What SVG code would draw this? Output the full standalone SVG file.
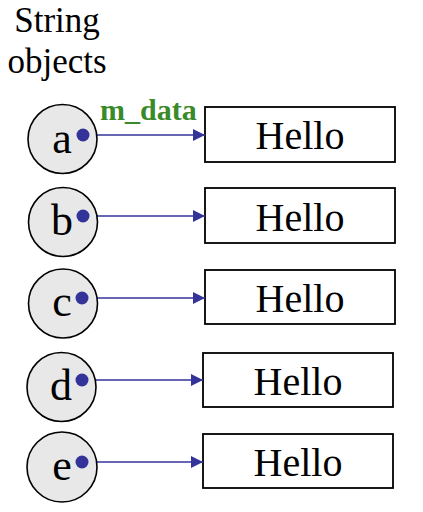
<svg xmlns="http://www.w3.org/2000/svg" width="423" height="512" viewBox="0 0 423 512">
<defs>
<style>
.obj circle.body{fill:#e8e8e8;stroke:#000;stroke-width:1.6}
.obj text{font-family:"Liberation Serif",serif;font-size:44px;fill:#000;text-anchor:middle}
.str rect{fill:#fff;stroke:#000;stroke-width:1.8}
.str text{font-family:"Liberation Serif",serif;font-size:40px;fill:#000;text-anchor:middle}
.dot{fill:#333399}
.conn line{stroke:#333399;stroke-width:1.6}
.title{font-family:"Liberation Serif",serif;font-size:35px;fill:#000;text-anchor:middle}
.lbl{font-family:"Liberation Serif",serif;font-size:30px;font-weight:bold;fill:#3a8a2a}
</style>
<marker id="ah" markerWidth="12" markerHeight="12" viewBox="0 0 12 12" refX="12" refY="6" orient="auto" markerUnits="userSpaceOnUse">
<path d="M0,0 L12,6 L0,12 Z" fill="#333399"/>
</marker>
</defs>
<rect width="423" height="512" fill="#fff"/>
<text class="title" x="57" y="32">String</text>
<text class="title" x="57" y="73">objects</text>
<text class="lbl" x="100" y="120">m_data</text>

<g id="str-a" class="str"><rect x="205" y="107" width="190" height="55"/><text x="300" y="149">Hello</text></g>
<g id="str-b" class="str"><rect x="205" y="188" width="190" height="55"/><text x="300" y="231">Hello</text></g>
<g id="str-c" class="str"><rect x="205" y="270" width="190" height="54"/><text x="300" y="312">Hello</text></g>
<g id="str-d" class="str"><rect x="203" y="353" width="190" height="54"/><text x="298" y="395">Hello</text></g>
<g id="str-e" class="str"><rect x="203" y="434" width="190" height="54"/><text x="298" y="476">Hello</text></g>

<g id="connectors" class="conn">
<line x1="83" y1="135" x2="205" y2="135" marker-end="url(#ah)"/>
<line x1="83" y1="216" x2="205" y2="216" marker-end="url(#ah)"/>
<line x1="82" y1="298" x2="205" y2="298" marker-end="url(#ah)"/>
<line x1="82" y1="380" x2="203" y2="380" marker-end="url(#ah)"/>
<line x1="82" y1="462" x2="203" y2="462" marker-end="url(#ah)"/>
</g>

<g id="obj-a" class="obj"><circle class="body" cx="62.5" cy="139" r="34.5"/><text x="62" y="153">a</text><circle class="dot" cx="83" cy="135" r="6.5"/></g>
<g id="obj-b" class="obj"><circle class="body" cx="63" cy="222" r="34.5"/><text x="62" y="235">b</text><circle class="dot" cx="83" cy="216" r="6.5"/></g>
<g id="obj-c" class="obj"><circle class="body" cx="63" cy="303.5" r="34.5"/><text x="62" y="316">c</text><circle class="dot" cx="82" cy="298" r="6.5"/></g>
<g id="obj-d" class="obj"><circle class="body" cx="61.5" cy="387" r="34.5"/><text x="61" y="400">d</text><circle class="dot" cx="82" cy="380" r="6.5"/></g>
<g id="obj-e" class="obj"><circle class="body" cx="62" cy="467" r="35"/><text x="62" y="480">e</text><circle class="dot" cx="82" cy="462" r="6.5"/></g>
</svg>
